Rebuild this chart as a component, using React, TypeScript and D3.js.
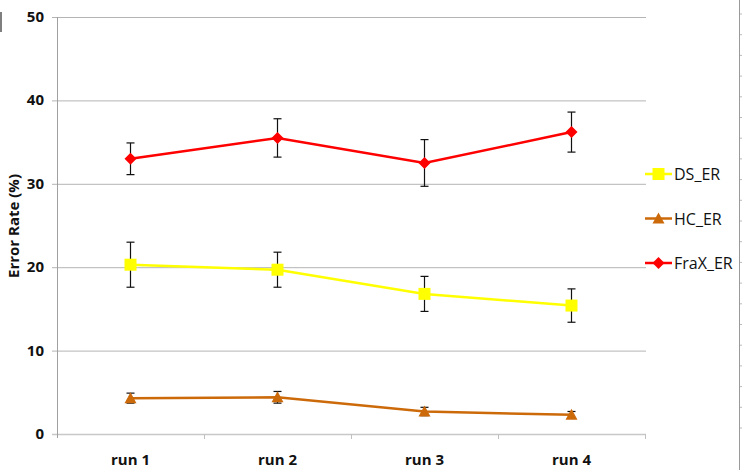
import React from "react";
import * as d3 from "d3";

const categories = ["run 1", "run 2", "run 3", "run 4"];
const yTicks = [0, 10, 20, 30, 40, 50];
const dsValues = [20.3, 19.7, 16.8, 15.4];
const dsErrors = [2.7, 2.1, 2.1, 2.0];
const hcValues = [4.3, 4.4, 2.7, 2.3];
const hcErrors = [0.6, 0.7, 0.5, 0.4];
const fraxValues = [33.0, 35.5, 32.5, 36.2];
const fraxErrors = [1.9, 2.3, 2.8, 2.4];
const seriesNames = ["DS_ER", "HC_ER", "FraX_ER"];

const W = 742, H = 470;
const FONT = "'Open Sans', 'Noto Sans', 'Liberation Sans', sans-serif";

export default function App() {
  const x = d3.scaleBand().domain(categories).range([57, 645]);
  const y = d3.scaleLinear().domain([0, 50]).range([434, 17]);
  const cx = (c: string) => (x(c) as number) + x.bandwidth() / 2;

  const series = [
    { name: seriesNames[1], values: hcValues, errors: hcErrors, color: "#cc6a0a", shape: "tri" },
    { name: seriesNames[0], values: dsValues, errors: dsErrors, color: "#ffff00", shape: "sq" },
    { name: seriesNames[2], values: fraxValues, errors: fraxErrors, color: "#ff0000", shape: "dia" },
  ];
  const line = d3.line<number>().x((_, i) => cx(categories[i])).y((d) => y(d));

  const marker = (shape: string, px: number, py: number, color: string, key: string) => {
    if (shape === "sq") return <rect key={key} x={px - 6} y={py - 6} width={12} height={12} fill={color} />;
    if (shape === "tri") return <path key={key} d={`M${px},${py - 6}L${px + 6},${py + 5}L${px - 6},${py + 5}Z`} fill={color} />;
    return <path key={key} d={`M${px},${py - 6}L${px + 6},${py}L${px},${py + 6}L${px - 6},${py}Z`} fill={color} />;
  };

  const legendOrder = [series[1], series[0], series[2]];
  const rightTicks = d3.range(14, 440, 20.7);

  return (
    <div style={{ position: "absolute", left: 0, top: 0 }}>
      <svg width={W} height={H} style={{ display: "block", background: "#fff" }}>
        <line x1={1} x2={1} y1={12} y2={32} stroke="#555" strokeWidth={1.5} />
        <line x1={739.5} x2={739.5} y1={0} y2={470} stroke="#9a9a9a" strokeWidth={1} />
        {rightTicks.map((t, i) => (
          <line key={i} x1={740} x2={742} y1={t} y2={t} stroke="#bbb" />
        ))}
        {yTicks.map((t) => (
          <g key={t}>
            <line x1={52} x2={646} y1={y(t) + 0.5} y2={y(t) + 0.5} stroke={t === 0 ? "#c8c8c8" : "#b4b4b4"} strokeWidth={t === 0 ? 1.5 : 1} />
            <text x={44} y={y(t) + 5} textAnchor="end" fontFamily={FONT} fontWeight="bold" fontSize={15} fill="#111">{t}</text>
          </g>
        ))}
        <line x1={57.5} x2={57.5} y1={17} y2={438} stroke="#a0a0a0" />
        {categories.map((c) => (
          <g key={c}>
            <line x1={(x(c) as number) + x.bandwidth() + 0.5} x2={(x(c) as number) + x.bandwidth() + 0.5} y1={434} y2={439} stroke="#c0c0c0" />
            <text x={cx(c)} y={465} textAnchor="middle" fontFamily={FONT} fontWeight="bold" fontSize={15} fill="#111">{c}</text>
          </g>
        ))}
        <text transform={`translate(19,226) rotate(-90)`} textAnchor="middle" fontFamily={FONT} fontWeight="bold" fontSize={15} fill="#111">Error Rate (%)</text>
        {series.map((s) => (
          <g key={s.name}>
            <path d={line(s.values) as string} fill="none" stroke={s.color} strokeWidth={2.5} />
            {s.values.map((v, i) => {
              const px = cx(categories[i]);
              const top = y(v + s.errors[i]), bot = y(v - s.errors[i]);
              return (
                <g key={i}>
                  <line x1={px} x2={px} y1={top} y2={bot} stroke="#111" strokeWidth={1.2} />
                  <line x1={px - 4} x2={px + 4} y1={top} y2={top} stroke="#111" strokeWidth={1.2} />
                  <line x1={px - 4} x2={px + 4} y1={bot} y2={bot} stroke="#111" strokeWidth={1.2} />
                  {marker(s.shape, px, y(v), s.color, "m" + i)}
                </g>
              );
            })}
          </g>
        ))}
        {legendOrder.map((s, i) => {
          const ly = 174 + i * 44.5;
          return (
            <g key={s.name}>
              <line x1={645} x2={672} y1={ly} y2={ly} stroke={s.color} strokeWidth={2.5} />
              {marker(s.shape, 658.5, ly, s.color, "l")}
              <text x={674} y={ly + 6} fontFamily={FONT} fontSize={16} fill="#111">{s.name}</text>
            </g>
          );
        })}
      </svg>
    </div>
  );
}
